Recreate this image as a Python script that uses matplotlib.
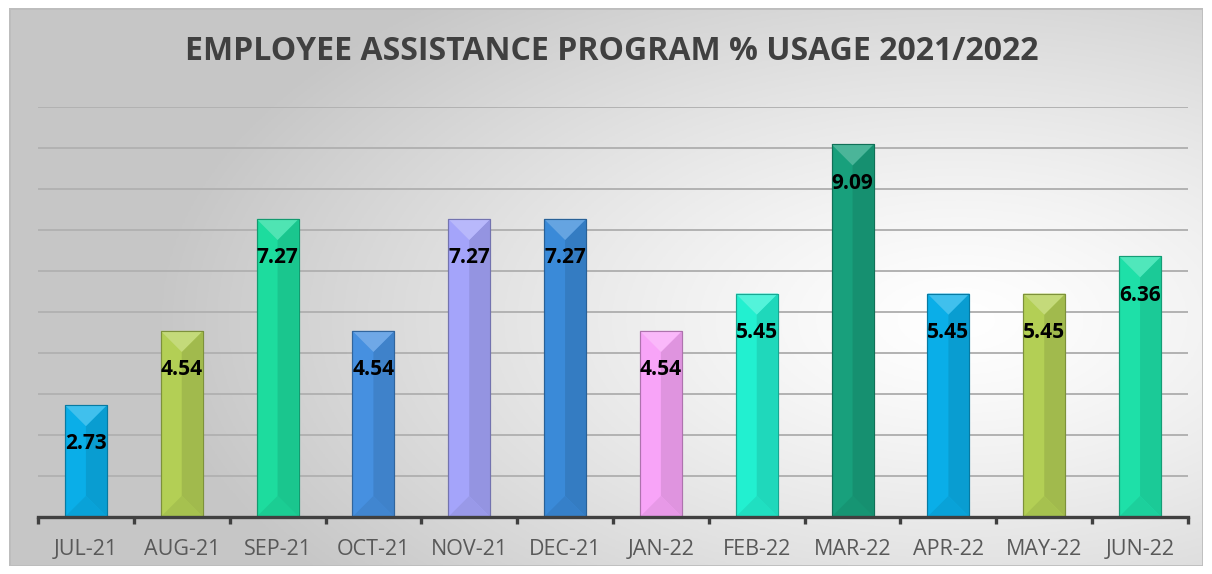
import matplotlib.pyplot as plt
import matplotlib.colors as mcolors
from matplotlib.patches import Polygon, Rectangle
import numpy as np

months = ["JUL-21", "AUG-21", "SEP-21", "OCT-21", "NOV-21", "DEC-21",
          "JAN-22", "FEB-22", "MAR-22", "APR-22", "MAY-22", "JUN-22"]
usage = [2.73, 4.54, 7.27, 4.54, 7.27, 7.27, 4.54, 5.45, 9.09, 5.45, 5.45, 6.36]
colors = ["#0aaee8", "#b3cf55", "#1ddc9e", "#4690e0", "#a4a4fa", "#3a8ad8",
          "#f8a4f8", "#22f0d0", "#18a07c", "#0aaee8", "#b3cf55", "#1ee0a8"]
title = "EMPLOYEE ASSISTANCE PROGRAM % USAGE 2021/2022"

W, H = 1212, 574
fig = plt.figure(figsize=(W / 100, H / 100), dpi=100, facecolor="white")


def mix(c, other, f):
    a = np.array(mcolors.to_rgb(c))
    b = np.array(mcolors.to_rgb(other))
    return tuple(a * (1 - f) + b * f)


# background panel with a soft radial gradient
fl, ft, fr, fb = 9, 8, 1203, 566
bg = fig.add_axes([fl / W, 1 - fb / H, (fr - fl) / W, (fb - ft) / H], zorder=-2)
xx, yy = np.meshgrid(np.linspace(fl, fr, 400), np.linspace(ft, fb, 200))
r = np.sqrt(((xx - 960) / 800) ** 2 + ((yy - 320) / 420) ** 2)
r = np.clip(r, 0, 1)
img = np.ones((200, 400, 3))
lo, hi = 0.78, 1.0
for k in range(3):
    img[:, :, k] = hi - (hi - lo) * r ** 1.3
bg.imshow(img, extent=[0, 1, 0, 1], aspect="auto", origin="upper")
bg.add_patch(Rectangle((0, 0), 1, 1, fill=False, edgecolor="#bdbdbd", lw=2,
                       transform=bg.transAxes))
bg.set_axis_off()

# plot area
x0, x1, ytop, ybot = 38, 1188, 107, 517
ax = fig.add_axes([x0 / W, 1 - ybot / H, (x1 - x0) / W, (ybot - ytop) / H])
ax.set_facecolor("none")
ax.set_xlim(-0.5, 11.5)
ax.set_ylim(0, 10)

for g in range(1, 11):
    ax.axhline(g, color="#b2b2b2", lw=1.4, zorder=0)

bw = 0.44
xs = np.arange(len(months))
ax.bar(xs, usage, width=bw, color=colors, zorder=2,
       edgecolor=[mix(c, "black", 0.25) for c in colors], linewidth=0.8)

# bevel shading
px_per_x = (x1 - x0) / 12
px_per_y = (ybot - ytop) / 10
d = (bw / 2) * px_per_x / px_per_y
for x, v, c in zip(xs, usage, colors):
    l, rt = x - bw / 2, x + bw / 2
    ax.add_patch(Polygon([(x, d), (rt, 0), (rt, v), (x, v - d)],
                         closed=True, color=mix(c, "black", 0.1), zorder=3, lw=0))
    ax.add_patch(Polygon([(l, v), (rt, v), (x, v - d)],
                         closed=True, color=mix(c, "white", 0.22), zorder=3, lw=0))
    ax.add_patch(Polygon([(l, 0), (rt, 0), (x, d)],
                         closed=True, color=mix(c, "black", 0.07), zorder=3, lw=0))
    ax.add_patch(Rectangle((l, 0), bw, v, fill=False,
                           edgecolor=mix(c, "black", 0.3), lw=0.8, zorder=4))
    ax.annotate(f"{v:.2f}", (x, v), xytext=(0, -28), textcoords="offset points",
                ha="center", va="center", fontsize=15, fontweight="bold",
                family="Open Sans", color="black", zorder=5)

for s in ["left", "right", "top"]:
    ax.spines[s].set_visible(False)
ax.spines["bottom"].set_color("#404040")
ax.spines["bottom"].set_linewidth(2.4)
ax.spines["bottom"].set_zorder(6)
ax.set_yticks([])
ax.set_xticks(xs)
ax.set_xticklabels(months, family="Open Sans", fontsize=15.5, color="#595959")
ax.tick_params(axis="x", which="major", length=0, pad=16)
ax.set_xticks(np.arange(-0.5, 12, 1), minor=True)
ax.tick_params(axis="x", which="minor", length=5, width=2.4, color="#404040")

fig.text(612 / W, 1 - 52 / H, title, ha="center", va="center",
         fontsize=23, fontweight="bold", family="Open Sans", color="#404040")

fig.savefig("out.png", dpi=100)
